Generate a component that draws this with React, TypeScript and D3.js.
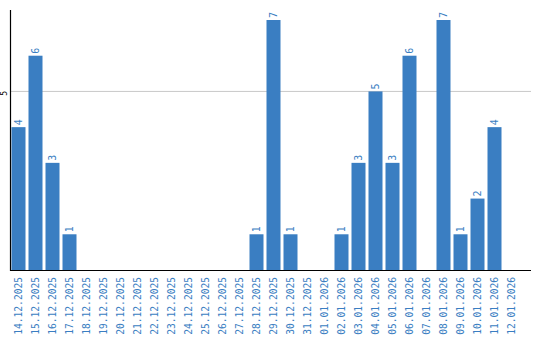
import React from "react";
import * as d3 from "d3";

const dates = [
  "14.12.2025","15.12.2025","16.12.2025","17.12.2025","18.12.2025","19.12.2025",
  "20.12.2025","21.12.2025","22.12.2025","23.12.2025","24.12.2025","25.12.2025",
  "26.12.2025","27.12.2025","28.12.2025","29.12.2025","30.12.2025","31.12.2025",
  "01.01.2026","02.01.2026","03.01.2026","04.01.2026","05.01.2026","06.01.2026",
  "07.01.2026","08.01.2026","09.01.2026","10.01.2026","11.01.2026","12.01.2026",
];
const counts = [4,6,3,1,0,0,0,0,0,0,0,0,0,0,1,7,1,0,0,1,3,5,3,6,0,7,1,2,4,0];
const yTicks = [5];

const W = 540, H = 340;
const left = 10, right = 531, top = 10, bottom = 270;
const blue = "#3a7ec2";
const font = "'DejaVu Sans Mono', monospace";

export default function App() {
  const x = d3.scaleBand<string>().domain(dates).range([left, 520]).paddingInner(3 / 17).paddingOuter(3 / 34);
  const y = d3.scaleLinear().domain([0, 7.28]).range([bottom, top]);
  return (
    <svg width={W} height={H} style={{ position: "absolute", left: 0, top: 0, background: "#fff" }}>
      {yTicks.map((t) => (
        <g key={t}>
          <line x1={left} x2={right} y1={y(t)} y2={y(t)} stroke="#c8c8c8" strokeWidth={1} />
          <text transform={`translate(7,${y(t) + 2}) rotate(-90)`} textAnchor="middle" fontSize={8} fontFamily={font} fill="#000">{t}</text>
        </g>
      ))}
      {dates.map((d, i) => counts[i] > 0 && (
        <g key={d}>
          <rect x={x(d)} y={y(counts[i])} width={x.bandwidth()} height={bottom - y(counts[i])} fill={blue} />
          <text transform={`translate(${x(d)! + x.bandwidth() / 2 + 3},${y(counts[i]) - 2}) rotate(-90)`} textAnchor="start" fontSize={10} fontFamily={font} fill={blue}>{counts[i]}</text>
        </g>
      ))}
      <line x1={left + 0.5} x2={left + 0.5} y1={top} y2={bottom + 1} stroke="#000" strokeWidth={1.2} />
      <line x1={left} x2={right} y1={bottom + 0.5} y2={bottom + 0.5} stroke="#000" strokeWidth={1.2} />
      {dates.map((d) => (
        <text key={d} transform={`translate(${x(d)! + x.bandwidth() / 2 + 3},277) rotate(-90)`} textAnchor="end" fontSize={9.6} fontFamily={font} fill={blue}>{d}</text>
      ))}
    </svg>
  );
}
